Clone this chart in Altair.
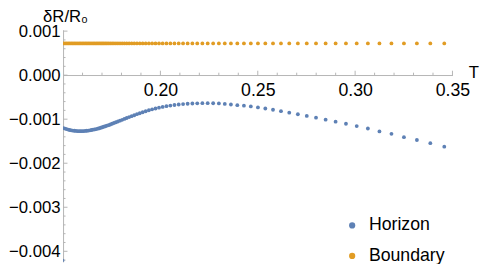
import altair as alt
import pandas as pd

# ---- data ----
T = [0.1502, 0.1510, 0.1518, 0.1526, 0.1534, 0.1542, 0.1550, 0.1558, 0.1566, 0.1574,
     0.1582, 0.1590, 0.1598, 0.1606, 0.1614, 0.1622, 0.1630, 0.1638, 0.1646, 0.1654,
     0.1662, 0.1670, 0.1678, 0.1686, 0.1694,
     0.17014, 0.17090, 0.17170, 0.17252, 0.17338, 0.17426, 0.17519, 0.17614, 0.17714, 0.17817,
     0.17924, 0.18035, 0.18150, 0.18270, 0.18394, 0.18523, 0.18657, 0.18796, 0.18940, 0.19090,
     0.19245, 0.19407, 0.19574, 0.19748, 0.19928, 0.20115, 0.20310, 0.20511, 0.20721, 0.20938,
     0.21164, 0.21398, 0.21641, 0.21893, 0.22155, 0.22427, 0.22709, 0.23002, 0.23306, 0.23621,
     0.23949, 0.24289, 0.24642, 0.25008, 0.25388, 0.25783, 0.26192, 0.26617, 0.27059, 0.27517,
     0.27992, 0.28486, 0.28998, 0.29530, 0.30082, 0.30655, 0.31250, 0.31867, 0.32508, 0.33173,
     0.33863, 0.34580]

horizon = [-0.001202, -0.001214, -0.001225, -0.001235, -0.001245, -0.001252, -0.001258, -0.001263,
           -0.001267, -0.001270, -0.001272, -0.001272, -0.001271, -0.001269, -0.001266, -0.001262,
           -0.001258, -0.001252, -0.001246, -0.001239, -0.001232, -0.001224, -0.001216, -0.001206,
           -0.001194,
           -0.001183, -0.001172, -0.001160, -0.001148, -0.001135, -0.001120, -0.001104, -0.001087,
           -0.001070, -0.001052, -0.001033, -0.001014,
           -0.000994, -0.000973, -0.000952, -0.000931, -0.000910, -0.000887, -0.000865, -0.000842,
           -0.000819, -0.000797,
           -0.000777, -0.000757, -0.000738, -0.000721, -0.000704, -0.000691, -0.000678, -0.000666,
           -0.000657, -0.000649,
           -0.000644, -0.000640, -0.000637, -0.000636, -0.000638, -0.000643, -0.000653, -0.000667,
           -0.000682, -0.000694,
           -0.000711, -0.000733, -0.000757, -0.000786, -0.000818, -0.000852, -0.000888, -0.000925,
           -0.000966, -0.001010,
           -0.001056, -0.001104, -0.001156, -0.001212, -0.001278, -0.001333, -0.001408, -0.001472,
           -0.001544, -0.001623]

boundary = [0.00072] * 25 + [0.00072] * 62

extra_T = [0.1497]
extra_horizon = [-0.00421]

series_names = ["Horizon", "Boundary"]
series_colors = ["#5E81B5", "#E19C24"]

x_major = [0.20, 0.25, 0.30, 0.35]
x_minor = [0.16, 0.17, 0.18, 0.19, 0.21, 0.22, 0.23, 0.24, 0.26, 0.27, 0.28, 0.29,
           0.31, 0.32, 0.33, 0.34]
y_major = [-0.004, -0.003, -0.002, -0.001, 0.0, 0.001]
y_minor = [-0.0042, -0.0038, -0.0036, -0.0034, -0.0032, -0.0028, -0.0026, -0.0024, -0.0022,
           -0.0018, -0.0016, -0.0014, -0.0012, -0.0008, -0.0006, -0.0004, -0.0002,
           0.0002, 0.0004, 0.0006, 0.0008]
x_origin = 0.15
y_origin = 0.0

# ---- tables ----
pts = pd.DataFrame(
    [("Horizon", t, v) for t, v in zip(T + extra_T, horizon + extra_horizon)]
    + [("Boundary", t, v) for t, v in zip(T, boundary)],
    columns=["series", "T", "value"],
)
xmaj = pd.DataFrame({"T": x_major, "value": [y_origin] * len(x_major)})
xmin = pd.DataFrame({"T": x_minor, "value": [y_origin] * len(x_minor)})
ymaj = pd.DataFrame({"T": [x_origin] * len(y_major), "value": y_major})
ymin = pd.DataFrame({"T": [x_origin] * len(y_minor), "value": y_minor})

FONT = "Liberation Sans"
AX = "#b5b5b5"
xscale = alt.Scale(domain=[0.15, 0.35], nice=False, zero=False)
yscale = alt.Scale(domain=[-0.00424, 0.00103], nice=False, zero=False)

x_axis = alt.Axis(values=x_major, format=".2f", orient="bottom", offset=-190,
                  ticks=False, tickSize=0, grid=False, domainColor=AX, domainWidth=1,
                  labelFontSize=18, labelFont=FONT, labelColor="black", labelPadding=7,
                  labelFlush=False, title="T", titleX=412, titleY=3, titleAlign="left",
                  titleBaseline="alphabetic", titleFontSize=17, titleFont=FONT,
                  titleFontWeight="normal", titleColor="black")
y_axis = alt.Axis(values=y_major, format=".3f", orient="left", ticks=False, tickSize=0,
                  grid=False, domainColor=AX, domainWidth=1, labelFontSize=17, labelFont=FONT,
                  labelColor="black", labelPadding=3, labelFlush=False,
                  title="δR/R₀", titleAngle=0, titleX=2, titleY=-8, titleAlign="center",
                  titleBaseline="alphabetic", titleFontSize=17, titleFont=FONT,
                  titleFontWeight="normal", titleColor="black")

X = alt.X("T:Q", scale=xscale, axis=x_axis)
Y = alt.Y("value:Q", scale=yscale, axis=y_axis)

points = alt.Chart(pts).mark_circle(size=15, opacity=1, clip=True).encode(
    x=X,
    y=Y,
    color=alt.Color("series:N", scale=alt.Scale(domain=series_names, range=series_colors),
                    legend=alt.Legend(orient="none", legendX=285, legendY=190, title=None,
                                      labelFontSize=18, labelFont=FONT, labelColor="black",
                                      symbolSize=40, symbolType="circle", rowPadding=13,
                                      labelOffset=8, padding=0, symbolStrokeWidth=0)),
)

def ticks(df, shape, size):
    return alt.Chart(df).mark_point(shape=shape, size=size, filled=False, color=AX,
                                    strokeWidth=1, opacity=1).encode(x=X, y=Y)

chart = alt.layer(
    ticks(xmaj, "M0,0L0,-1", 81), ticks(xmin, "M0,0L0,-1", 25),
    ticks(ymaj, "M0,0L1,0", 81), ticks(ymin, "M0,0L1,0", 25),
    points,
).properties(
    width=396, height=236,
    padding={"left": 56, "top": 20, "right": 28, "bottom": 0},
    autosize=alt.AutoSizeParams(type="none"),
    background="white",
).configure_view(stroke=None)

chart.save("out.html", embed_options={"renderer": "svg", "actions": False})
